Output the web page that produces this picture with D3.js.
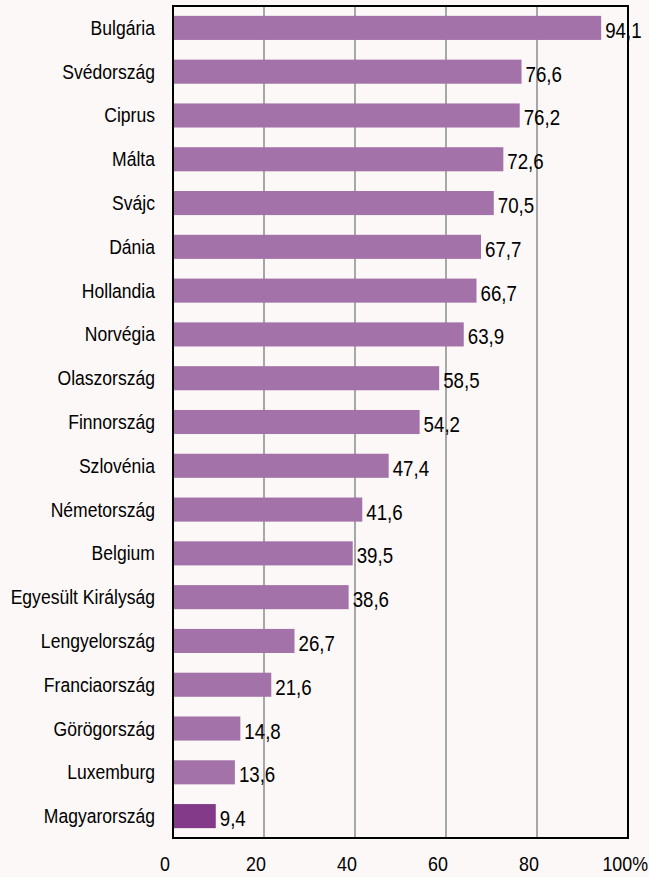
<html>
<meta charset="utf-8">
<script src="https://d3js.org/d3.v7.min.js"></script>
<style>
  body { margin: 0; background: #fcf8f7; }
  text { font-family: "Liberation Sans Narrow", "Arial Narrow", "Liberation Sans", sans-serif; }
</style>
<div id="chart"></div>
<script>
const countries = ["Bulgária", "Svédország", "Ciprus", "Málta", "Svájc", "Dánia", "Hollandia",
  "Norvégia", "Olaszország", "Finnország", "Szlovénia", "Németország", "Belgium",
  "Egyesült Királyság", "Lengyelország", "Franciaország", "Görögország", "Luxemburg", "Magyarország"]
const values = [94.1, 76.6, 76.2, 72.6, 70.5, 67.7, 66.7, 63.9, 58.5, 54.2, 47.4, 41.6, 39.5,
  38.6, 26.7, 21.6, 14.8, 13.6, 9.4]
const ticks = [0, 20, 40, 60, 80, 100]
const tickLabels = ["0", "20", "40", "60", "80", "100%"]

const width = 649, height = 877
const plotLeft = 173, plotRight = 628, plotTop = 6, plotBottom = 838
// no narrow font installed, so squeeze the text horizontally
const squeeze = 0.85

const svg = d3.select("#chart").append("svg")
  .attr("width", width).attr("height", height)

svg.append("rect").attr("width", width).attr("height", height).attr("fill", "#fcf8f7")

const x = d3.scaleLinear().domain([0, 100]).range([plotLeft, plotRight])
const y = d3.scaleBand().domain(countries).range([plotTop, plotBottom]).paddingInner(0.45).paddingOuter(0.225)

// gridlines
svg.selectAll(".grid")
  .data(ticks.slice(1, -1))
  .enter().append("line")
  .attr("x1", d => x(d)).attr("x2", d => x(d))
  .attr("y1", plotTop).attr("y2", plotBottom)
  .attr("stroke", "#8c8c8c").attr("stroke-width", 1.5)

const data = countries.map((c, i) => ({ c: c, v: values[i] }))

svg.selectAll(".bar")
  .data(data)
  .enter().append("rect")
  .attr("x", x(0))
  .attr("y", d => y(d.c))
  .attr("width", d => x(d.v) - x(0))
  .attr("height", y.bandwidth())
  .attr("fill", d => d.c == "Magyarország" ? "#833a88" : "#a372a8")

// frame
svg.append("rect")
  .attr("x", plotLeft).attr("y", plotTop)
  .attr("width", plotRight - plotLeft).attr("height", plotBottom - plotTop)
  .attr("fill", "none").attr("stroke", "black").attr("stroke-width", 2)

svg.selectAll(".val")
  .data(data)
  .enter().append("text")
  .attr("transform", d => "translate(" + (x(d.v) + 4) + "," + (y(d.c) + y.bandwidth() / 2 + 10) + ") scale(" + squeeze + ",1)")
  .attr("font-size", "22px")
  .attr("fill", "black")
  .text(d => String(d.v).replace(".", ","))

svg.selectAll(".cat")
  .data(countries)
  .enter().append("text")
  .attr("transform", d => "translate(155," + (y(d) + y.bandwidth() / 2 + 7) + ") scale(0.9,1)")
  .attr("text-anchor", "end")
  .attr("font-size", "19.5px")
  .attr("fill", "black")
  .text(d => d)

svg.selectAll(".tick")
  .data(ticks)
  .enter().append("text")
  .attr("transform", (d, i) => "translate(" + (i == ticks.length - 1 ? width - 1 : x(d) - 8) + ",871) scale(" + squeeze + ",1)")
  .attr("text-anchor", (d, i) => i == ticks.length - 1 ? "end" : "middle")
  .attr("font-size", "21px")
  .attr("fill", "black")
  .text((d, i) => tickLabels[i])
</script>
</html>
